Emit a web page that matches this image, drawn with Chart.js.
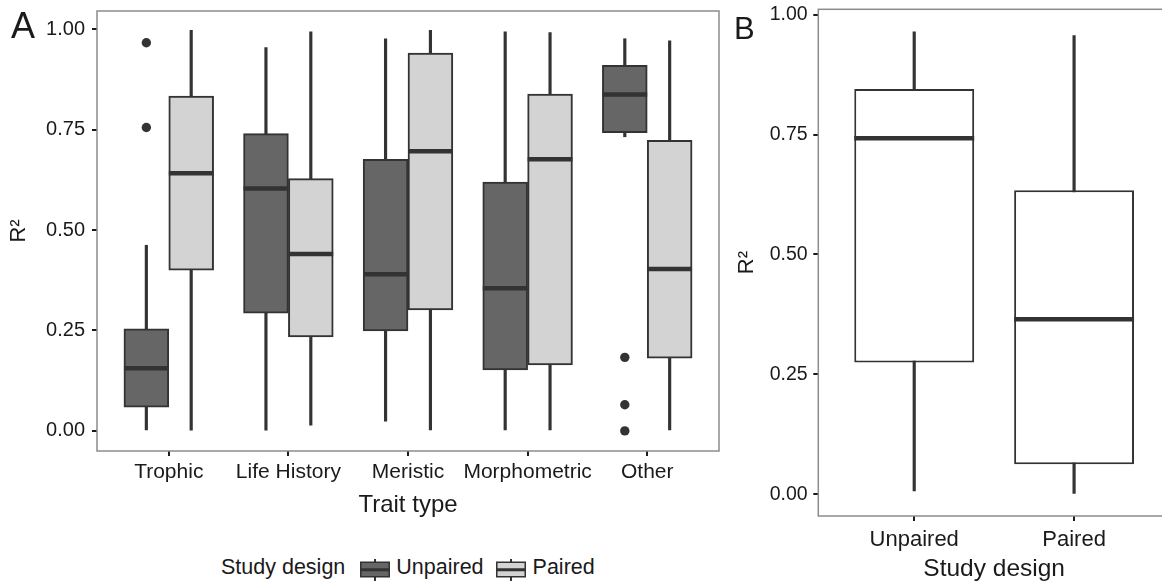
<!DOCTYPE html>
<html>
<head>
<meta charset="utf-8">
<script src="https://cdn.jsdelivr.net/npm/chart.js@4.4.1/dist/chart.umd.min.js"></script>
<style>
  html, body { margin: 0; padding: 0; background: #fff; overflow: hidden; }
  #page { position: relative; width: 1162px; height: 585px; overflow: hidden;
          font-family: 'Liberation Sans', Arial, sans-serif; color: #1a1a1a; }
  canvas.panel { position: absolute; top: 0; }
  .tag { position: absolute; line-height: 1; }
  #legend { position: absolute; left: 221px; top: 557px; display: flex; align-items: center;
            font-size: 21.5px; line-height: 1; white-space: nowrap; }
  #legend canvas { position: relative; top: 2px; }
</style>
</head>
<body>
<div id="page">
  <canvas id="chartA" class="panel" width="722" height="540" style="left:0;width:722px;height:540px"></canvas>
  <canvas id="chartB" class="panel" width="460" height="585" style="left:722px;width:460px;height:585px"></canvas>
  <div class="tag" style="left:11px;top:8px;font-size:36px">A</div>
  <div class="tag" style="left:734px;top:13px;font-size:31px">B</div>
  <div id="legend">
    <span>Study design</span>
    <canvas id="keyUnpaired" width="30" height="22" style="margin-left:15px"></canvas>
    <span style="margin-left:6px">Unpaired</span>
    <canvas id="keyPaired" width="30" height="22" style="margin-left:12px"></canvas>
    <span style="margin-left:7px">Paired</span>
  </div>
</div>
<script>
  // panel A: R² by trait type and study design
  var traitTypes = ['Trophic', 'Life History', 'Meristic', 'Morphometric', 'Other'];
  var yTicks = [0, 0.25, 0.5, 0.75, 1];

  // box stats per trait type: whisker low, Q1, median, Q3, whisker high
  var unpairedLow = [0.0, 0.002, 0.024, 0.0, 0.732];
  var unpairedQ1 = [0.059, 0.293, 0.249, 0.152, 0.742];
  var unpairedMed = [0.156, 0.603, 0.390, 0.355, 0.837];
  var unpairedQ3 = [0.254, 0.740, 0.676, 0.619, 0.910];
  var unpairedHigh = [0.462, 0.954, 0.976, 0.993, 0.976];
  var unpairedOutliers = [[0.966, 0.755], [], [], [], [0.183, 0.065, 0.0]];

  var pairedLow = [0.002, 0.014, 0.0, 0.0, 0.0];
  var pairedQ1 = [0.400, 0.234, 0.301, 0.164, 0.181];
  var pairedMed = [0.641, 0.440, 0.696, 0.676, 0.403];
  var pairedQ3 = [0.833, 0.628, 0.940, 0.838, 0.723];
  var pairedHigh = [0.997, 0.993, 0.997, 0.991, 0.971];

  // panel B: R² by study design only
  var designs = ['Unpaired', 'Paired'];
  var designLow = [0.0075, 0.002];
  var designQ1 = [0.275, 0.063];
  var designMed = [0.742, 0.365];
  var designQ3 = [0.845, 0.634];
  var designHigh = [0.964, 0.956];

  var INK = '#333333';
  var TEXT = '#1a1a1a';
  var FAMILY = "'Liberation Sans', Arial, sans-serif";
  var DODGE = 0.1875;

  var panelBorder = {
    id: 'panelBorder',
    afterDatasetsDraw: function (chart) {
      var ctx = chart.ctx, a = chart.chartArea;
      ctx.save();
      ctx.strokeStyle = '#8c8c8c';
      ctx.lineWidth = 1.5;
      ctx.strokeRect(a.left, a.top, a.right - a.left, a.bottom - a.top);
      ctx.restore();
    }
  };

  function boxSeries(xs, low, q1, med, q3, high, fill, catPct, halfWidth) {
    return [
      {
        type: 'bar',
        data: xs.map(function (x, i) { return {x: x, y: [low[i], high[i]]}; }),
        backgroundColor: INK,
        barThickness: 2.5,
        grouped: false,
        order: 4
      },
      {
        type: 'bar',
        data: xs.map(function (x, i) { return {x: x, y: [q1[i], q3[i]]}; }),
        backgroundColor: fill,
        borderColor: INK,
        borderWidth: 2,
        borderSkipped: false,
        categoryPercentage: catPct,
        barPercentage: 1,
        grouped: false,
        order: 3
      },
      {
        type: 'line',
        data: xs.map(function (x, i) { return {x: x, y: med[i]}; }),
        showLine: false,
        pointStyle: 'line',
        pointRadius: halfWidth,
        pointBorderWidth: 4.5,
        pointBorderColor: INK,
        order: 1
      }
    ];
  }

  function gridOpts() {
    return {
      offset: false,
      drawOnChartArea: false,
      drawTicks: true,
      tickLength: 5,
      lineWidth: 2,
      color: TEXT
    };
  }

  function yAxis(min, max, width, fontSize, labelPad, titlePad) {
    return {
      type: 'linear',
      min: min,
      max: max,
      afterBuildTicks: function (s) { s.ticks = yTicks.map(function (v) { return {value: v}; }); },
      afterFit: function (s) { s.width = width; s.paddingTop = 0; s.paddingBottom = 0; },
      grid: gridOpts(),
      border: {display: false},
      ticks: {
        font: {family: FAMILY, size: fontSize},
        color: TEXT,
        padding: labelPad,
        callback: function (v) { return v.toFixed(2); }
      },
      title: {
        display: true,
        text: 'R²',
        color: TEXT,
        font: {family: FAMILY, size: 22},
        padding: {top: titlePad}
      }
    };
  }

  function xAxis(labels, height, fontSize, labelPad, title, titleSize, titlePad) {
    return {
      type: 'linear',
      offset: false,
      min: 0.4,
      max: labels.length + 0.6,
      afterBuildTicks: function (s) { s.ticks = labels.map(function (t, i) { return {value: i + 1}; }); },
      afterFit: function (s) { s.height = height; s.paddingLeft = 0; s.paddingRight = 0; },
      grid: gridOpts(),
      border: {display: false},
      ticks: {
        autoSkip: false,
        maxRotation: 0,
        minRotation: 0,
        font: {family: FAMILY, size: fontSize},
        color: TEXT,
        padding: labelPad,
        callback: function (v) { return labels[Math.round(v) - 1]; }
      },
      title: {
        display: true,
        text: title,
        color: TEXT,
        font: {family: FAMILY, size: titleSize},
        padding: {bottom: titlePad}
      }
    };
  }

  // ---- panel A
  var posA = traitTypes.map(function (t, i) { return i + 1; });
  var xsUnpaired = posA.map(function (p) { return p - DODGE; });
  var xsPaired = posA.map(function (p) { return p + DODGE; });

  var outlierPoints = [];
  unpairedOutliers.forEach(function (vals, i) {
    vals.forEach(function (v) { outlierPoints.push({x: xsUnpaired[i], y: v}); });
  });

  var datasetsA = []
    .concat(boxSeries(xsUnpaired, unpairedLow, unpairedQ1, unpairedMed, unpairedQ3, unpairedHigh, '#666666', 1, 22.4))
    .concat(boxSeries(xsPaired, pairedLow, pairedQ1, pairedMed, pairedQ3, pairedHigh, '#d3d3d3', 1, 22.4));
  datasetsA.push({
    type: 'line',
    data: outlierPoints,
    showLine: false,
    pointRadius: 4.7,
    pointBackgroundColor: INK,
    pointBorderWidth: 0,
    order: 0
  });

  new Chart(document.getElementById('chartA'), {
    type: 'bar',
    data: {datasets: datasetsA},
    plugins: [panelBorder],
    options: {
      responsive: false,
      animation: false,
      layout: {autoPadding: false, padding: {left: 0, top: 11, right: 3, bottom: 0}},
      plugins: {legend: {display: false}, tooltip: {enabled: false}},
      scales: {
        x: xAxis(traitTypes, 89, 21, 4, 'Trait type', 24, 20),
        y: yAxis(-0.05, 1.045, 97, 20, 7, 5.8)
      }
    }
  });

  // ---- panel B
  var posB = designs.map(function (d, i) { return i + 1; });

  new Chart(document.getElementById('chartB'), {
    type: 'bar',
    data: {datasets: boxSeries(posB, designLow, designQ1, designMed, designQ3, designHigh, '#ffffff', 0.75, 60)},
    plugins: [panelBorder],
    options: {
      responsive: false,
      animation: false,
      layout: {autoPadding: false, padding: {left: 0, top: 9.3, right: 12, bottom: 0}},
      plugins: {legend: {display: false}, tooltip: {enabled: false}},
      scales: {
        x: xAxis(designs, 69, 22, 5.3, 'Study design', 24.5, 1.3),
        y: yAxis(-0.045, 1.011, 96.3, 19.5, 5.7, 11.3)
      }
    }
  });

  // legend keys
  function drawKey(id, fill) {
    var c = document.getElementById(id).getContext('2d');
    c.fillStyle = INK;
    c.fillRect(14, 0, 2, 22);
    c.fillStyle = fill;
    c.fillRect(1, 3.5, 28, 14);
    c.strokeStyle = INK;
    c.lineWidth = 1.5;
    c.strokeRect(0.75, 3.25, 28.5, 14.5);
    c.fillStyle = INK;
    c.fillRect(0.75, 9.25, 28.5, 3);
  }
  drawKey('keyUnpaired', '#666666');
  drawKey('keyPaired', '#d3d3d3');
</script>
</body>
</html>
